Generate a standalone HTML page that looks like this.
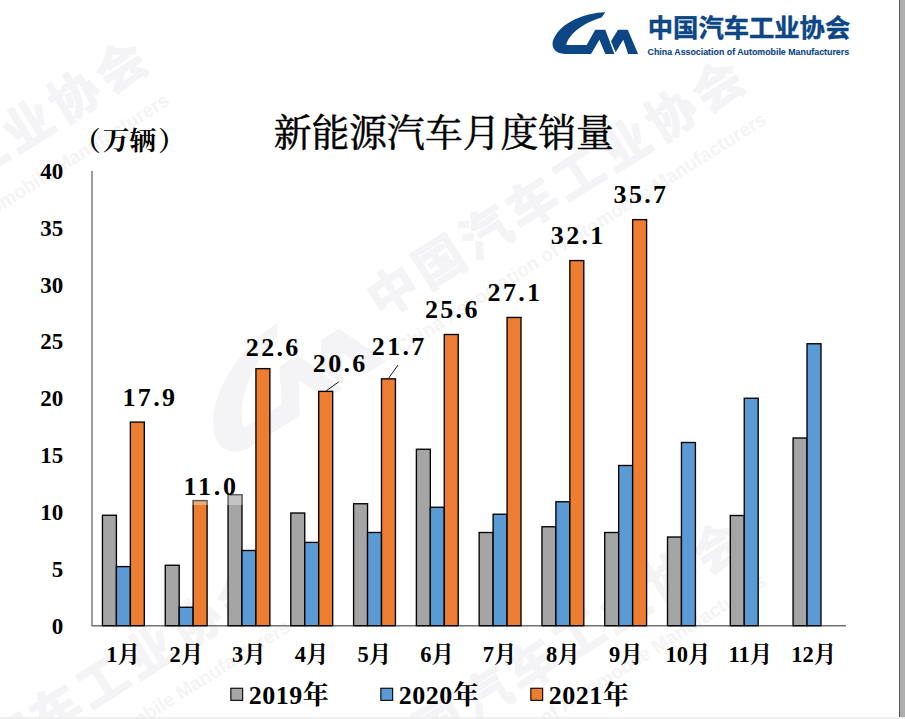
<!DOCTYPE html>
<html><head><meta charset="utf-8"><title>chart</title><style>html,body{margin:0;padding:0;background:#fff;overflow:hidden}svg{display:block}</style></head><body>
<svg width="905" height="719" viewBox="0 0 905 719" role="img">
<desc>新能源汽车月度销量（万辆） 2019年 2020年 2021年 1月-12月; 2021: 17.9 11.0 22.6 20.6 21.7 25.6 27.1 32.1 35.7; 中国汽车工业协会 China Association of Automobile Manufacturers</desc>
<defs>
<g id="logo"><path id="mark" d="M605.3 12.2C586 12.5 560 22 553 40.5C551 47.5 555 53.9 565 53.9L591 53.9L599.4 39.8L605.3 53.9L614.4 53.9L605.3 29.7L595.2 29.7L586.7 45.1L566.3 44.9C568.5 34 584 22.5 601.6 17.5ZM618 29.7L627.8 29.7L638.1 53.9L628.1 53.9L623.3 39.8L615.6 52.3L611 41.3Z" stroke="none"/><text x="647.8" y="37.3" font-size="25.3" font-weight="bold" font-family="'Liberation Sans','Noto Sans CJK SC',sans-serif" stroke-width="0.45" stroke-linejoin="round" textLength="202.4" lengthAdjust="spacing">中国汽车工业协会</text><g id="en"><text x="647.6" y="55.3" font-size="9.2" font-weight="bold" font-family="'Liberation Sans',sans-serif" stroke-width="0.12" stroke-linejoin="round" textLength="201.5" lengthAdjust="spacingAndGlyphs">China Association of Automobile Manufacturers</text></g></g><g id="wm"><use href="#mark" x="2.5" stroke="none"/><text x="649.06" y="36.61" font-size="22.77" font-weight="bold" font-family="'Liberation Sans','Noto Sans CJK SC',sans-serif" stroke-width="0.7" stroke-linejoin="round" textLength="199.9" lengthAdjust="spacing">中国汽车工业协会</text><text x="648.1" y="55" font-size="9" font-weight="bold" font-family="'Liberation Sans',sans-serif" stroke="none" textLength="199.8" lengthAdjust="spacingAndGlyphs">China Association of Automobile Manufacturers</text></g></defs>
<rect width="905" height="719" fill="#fff"/>
<use href="#wm" fill="#f4f4f6" stroke="#f4f4f6" transform="translate(717 85) rotate(-32.3) scale(2.17) translate(-837.5 -27.8)"/>
<use href="#wm" fill="#f4f4f6" stroke="#f4f4f6" transform="translate(120 66) rotate(-32.3) scale(2.17) translate(-837.5 -27.8)"/>
<use href="#wm" fill="#f4f4f6" stroke="#f4f4f6" transform="translate(241 592.5) rotate(-32.3) scale(2.17) translate(-837.5 -27.8)"/>
<use href="#wm" fill="#f4f4f6" stroke="#f4f4f6" transform="translate(717 546.5) rotate(-32.3) scale(2.17) translate(-837.5 -27.8)"/>
<rect x="0" y="717" width="905" height="2" fill="#f0f0f0"/>
<rect x="900" y="0" width="5" height="717" fill="#adadad"/>
<rect x="899" y="0" width="1" height="717" fill="#555"/>
<use href="#logo" fill="#0c4684" stroke="#0c4684"/>
<text x="273.7" y="145.6" font-size="37.8" font-family="'Liberation Serif','Noto Serif CJK SC',serif" fill="#000" stroke="#000" stroke-width="0.5" stroke-linejoin="round">新能源汽车月度销量</text>
<g fill="#000" font-size="26.67" font-weight="bold" font-family="'Liberation Serif','Noto Serif CJK SC',serif"><text x="74" y="149.6">（</text><text x="102.8" y="149.6">万辆</text><text x="158.2" y="149.6">）</text></g>
<path d="M92 171 V625.8 H846" fill="none" stroke="#727272" stroke-width="1.4"/>
<g stroke="#000" stroke-width="1.35"><rect x="102.46" y="515.25" width="13.95" height="110.45" fill="#a5a5a5"/><rect x="116.42" y="566.6" width="13.95" height="59.1" fill="#5b9bd5"/><rect x="130.37" y="422.09" width="13.95" height="203.61" fill="#ed7d31"/><rect x="165.25" y="565.25" width="13.95" height="60.45" fill="#a5a5a5"/><rect x="179.2" y="607.25" width="13.95" height="18.45" fill="#5b9bd5"/><rect x="193.15" y="500.58" width="13.95" height="125.12" fill="#ed7d31"/><rect x="228.03" y="494.75" width="13.95" height="130.95" fill="#a5a5a5"/><rect x="241.98" y="550.5" width="13.95" height="75.2" fill="#5b9bd5"/><rect x="255.93" y="368.63" width="13.95" height="257.07" fill="#ed7d31"/><rect x="290.81" y="513" width="13.95" height="112.7" fill="#a5a5a5"/><rect x="304.77" y="542.4" width="13.95" height="83.3" fill="#5b9bd5"/><rect x="318.72" y="391.38" width="13.95" height="234.33" fill="#ed7d31"/><rect x="353.6" y="503.75" width="13.95" height="121.95" fill="#a5a5a5"/><rect x="367.55" y="532.5" width="13.95" height="93.2" fill="#5b9bd5"/><rect x="381.5" y="378.86" width="13.95" height="246.84" fill="#ed7d31"/><rect x="416.38" y="449.25" width="13.95" height="176.45" fill="#a5a5a5"/><rect x="430.33" y="507.25" width="13.95" height="118.45" fill="#5b9bd5"/><rect x="444.28" y="334.5" width="13.95" height="291.2" fill="#ed7d31"/><rect x="479.16" y="532.5" width="13.95" height="93.2" fill="#a5a5a5"/><rect x="493.12" y="514.25" width="13.95" height="111.45" fill="#5b9bd5"/><rect x="507.07" y="317.44" width="13.95" height="308.26" fill="#ed7d31"/><rect x="541.95" y="526.75" width="13.95" height="98.95" fill="#a5a5a5"/><rect x="555.9" y="501.75" width="13.95" height="123.95" fill="#5b9bd5"/><rect x="569.85" y="260.56" width="13.95" height="365.14" fill="#ed7d31"/><rect x="604.73" y="532.5" width="13.95" height="93.2" fill="#a5a5a5"/><rect x="618.68" y="465.5" width="13.95" height="160.2" fill="#5b9bd5"/><rect x="632.63" y="219.61" width="13.95" height="406.09" fill="#ed7d31"/><rect x="667.51" y="537" width="13.95" height="88.7" fill="#a5a5a5"/><rect x="681.47" y="442.5" width="13.95" height="183.2" fill="#5b9bd5"/><rect x="730.3" y="515.5" width="13.95" height="110.2" fill="#a5a5a5"/><rect x="744.25" y="398.25" width="13.95" height="227.45" fill="#5b9bd5"/><rect x="793.08" y="438" width="13.95" height="187.7" fill="#a5a5a5"/><rect x="807.03" y="343.75" width="13.95" height="281.95" fill="#5b9bd5"/></g>
<g fill="#000" font-size="23" font-weight="bold" font-family="'Liberation Serif',serif" text-anchor="end"><text x="63.3" y="633.8">0</text><text x="63.3" y="576.93">5</text><text x="63.3" y="520.05">10</text><text x="63.3" y="463.18">15</text><text x="63.3" y="406.3">20</text><text x="63.3" y="349.43">25</text><text x="63.3" y="292.55">30</text><text x="63.3" y="235.68">35</text><text x="63.3" y="178.8">40</text></g>
<g fill="#000" font-size="22.5" font-weight="bold" font-family="'Liberation Serif','Noto Serif CJK SC',serif"><text x="106.2" y="662">1月</text><text x="169.4" y="662">2月</text><text x="232" y="662">3月</text><text x="294.8" y="662">4月</text><text x="357.4" y="662">5月</text><text x="420.3" y="662">6月</text><text x="482.8" y="662">7月</text><text x="546" y="662">8月</text><text x="608.9" y="662">9月</text><text x="665.6" y="662">10月</text><text x="728.4" y="662">11月</text><text x="791.2" y="662">12月</text></g>
<rect x="192.5" y="478" width="50" height="27" fill="#fff" fill-opacity="0.35"/>
<g fill="#000" font-size="26" font-weight="bold" font-family="'Liberation Serif',serif"><text x="122.5" y="406.2" textLength="52.5" lengthAdjust="spacing">17.9</text><text x="183.5" y="495" textLength="52.5" lengthAdjust="spacing">11.0</text><text x="245.8" y="356.2" textLength="52.5" lengthAdjust="spacing">22.6</text><text x="312.8" y="371.7" textLength="52.5" lengthAdjust="spacing">20.6</text><text x="371.8" y="354.5" textLength="52.5" lengthAdjust="spacing">21.7</text><text x="424.9" y="317.6" textLength="52.5" lengthAdjust="spacing">25.6</text><text x="487.6" y="300.8" textLength="52.5" lengthAdjust="spacing">27.1</text><text x="550.8" y="244.1" textLength="52.5" lengthAdjust="spacing">32.1</text><text x="613.6" y="203.2" textLength="52.5" lengthAdjust="spacing">35.7</text></g>
<path d="M326.2 390.8 L338.8 381.8 M388.8 378 L398 365" stroke="#000" stroke-width="0.9" fill="none"/>
<rect x="230.85" y="688.25" width="11.8" height="12.1" fill="#a5a5a5" stroke="#000" stroke-width="1.1"/>
<text x="248.7" y="703.8" font-size="26" font-weight="bold" font-family="'Liberation Serif','Noto Serif CJK SC',serif" fill="#000" textLength="80" lengthAdjust="spacing">2019年</text>
<rect x="380.85" y="688.25" width="11.8" height="12.1" fill="#5b9bd5" stroke="#000" stroke-width="1.1"/>
<text x="398.7" y="703.8" font-size="26" font-weight="bold" font-family="'Liberation Serif','Noto Serif CJK SC',serif" fill="#000" textLength="80" lengthAdjust="spacing">2020年</text>
<rect x="530.85" y="688.25" width="11.8" height="12.1" fill="#ed7d31" stroke="#000" stroke-width="1.1"/>
<text x="548.7" y="703.8" font-size="26" font-weight="bold" font-family="'Liberation Serif','Noto Serif CJK SC',serif" fill="#000" textLength="80" lengthAdjust="spacing">2021年</text>
</svg>
</body></html>
